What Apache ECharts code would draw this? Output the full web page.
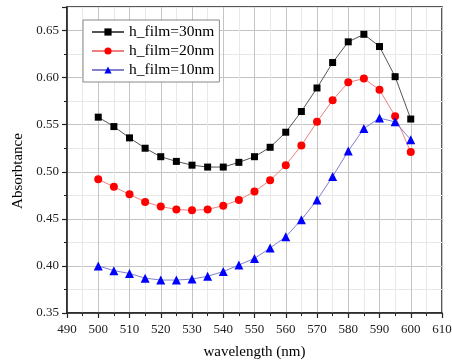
<!DOCTYPE html>
<html>
<head>
<meta charset="utf-8">
<script src="https://cdn.jsdelivr.net/npm/echarts@6/dist/echarts.min.js"></script>
<style>html,body{margin:0;padding:0;background:#fff}#c{width:452px;height:362px}</style>
</head>
<body>
<div id="c"></div>
<script>
const wavelength = [500,505,510,515,520,525,530,535,540,545,550,555,560,565,570,575,580,585,590,595,600];
const h30 = [0.558,0.548,0.536,0.525,0.516,0.511,0.507,0.505,0.505,0.510,0.516,0.526,0.542,0.564,0.589,0.616,0.638,0.646,0.633,0.601,0.556];
const h20 = [0.492,0.484,0.476,0.468,0.463,0.460,0.459,0.460,0.464,0.470,0.479,0.491,0.507,0.528,0.553,0.576,0.595,0.599,0.587,0.559,0.521];
const h10 = [0.400,0.395,0.392,0.387,0.385,0.385,0.386,0.389,0.394,0.401,0.408,0.419,0.431,0.449,0.470,0.495,0.522,0.546,0.557,0.553,0.534];
const seriesNames = ['h_film=30nm','h_film=20nm','h_film=10nm'];

const font = 'Liberation Serif, Times New Roman, serif';
const pairs = arr => wavelength.map((w, i) => [w, arr[i]]);

const chart = echarts.init(document.getElementById('c'));
chart.setOption({
  animation: false,
  backgroundColor: '#fff',
  grid: { left: 67, right: 10, top: 7, bottom: 49, outerBoundsMode: 'none', containLabel: false, show: true, borderColor: '#222', borderWidth: 1.5, backgroundColor: 'transparent' },
  legend: {
    orient: 'vertical', left: 83, top: 20,
    backgroundColor: '#fff', borderColor: '#888', borderWidth: 1,
    padding: [4, 5, 4, 8], itemGap: 3, itemWidth: 32, itemHeight: 9,
    textStyle: { fontFamily: font, fontSize: 15.5, color: '#000' },
    data: seriesNames
  },
  xAxis: {
    type: 'value', min: 490, max: 610, interval: 10,
    name: 'wavelength (nm)', nameLocation: 'middle', nameGap: 32,
    nameTextStyle: { fontFamily: font, fontSize: 15, color: '#000' },
    axisLine: { show: true, lineStyle: { color: '#222', width: 1.5 } },
    axisTick: { show: true, length: 5, lineStyle: { color: '#222', width: 1.2 } },
    minorTick: { show: true, splitNumber: 2, length: 3, lineStyle: { color: '#222', width: 1 } },
    axisLabel: { fontFamily: font, fontSize: 13, color: '#222', margin: 10 },
    splitLine: { show: true, lineStyle: { color: '#c4c4c4', width: 1 } },
    minorSplitLine: { show: true, lineStyle: { color: '#e8e8e8', width: 1 } }
  },
  yAxis: [{
    type: 'value', min: 0.35, max: 0.675, interval: 0.025,
    name: 'Absorbtance', nameLocation: 'middle', nameGap: 37,
    nameTextStyle: { fontFamily: font, fontSize: 15, color: '#000', padding: [0, 22, 0, 0] },
    axisLine: { show: true, lineStyle: { color: '#222', width: 1.5 } },
    axisTick: { show: true, length: 3, lineStyle: { color: '#222', width: 1 } },
    axisLabel: {
      fontFamily: font, fontSize: 13, color: '#222', margin: 8,
      formatter: v => {
        const k = Math.round(v / 0.05);
        return (Math.abs(k * 0.05 - v) < 1e-6 && v < 0.67) ? v.toFixed(2) : '';
      }
    },
    splitLine: { show: true, showMinLine: true, showMaxLine: true, lineStyle: { color: ['#c4c4c4', '#e8e8e8'], width: 1 } }
  }, {
    type: 'value', min: 0.35, max: 0.675, interval: 0.05, position: 'left',
    axisLine: { show: false },
    axisTick: { show: true, length: 5, lineStyle: { color: '#222', width: 1.2 } },
    axisLabel: { show: false },
    splitLine: { show: false }
  }],
  series: [
    {
      name: seriesNames[0], type: 'line', data: pairs(h30), yAxisIndex: 0,
      symbol: 'rect', symbolSize: 7,
      itemStyle: { color: '#000' }, lineStyle: { color: '#555', width: 1 }
    },
    {
      name: seriesNames[1], type: 'line', data: pairs(h20), yAxisIndex: 0,
      symbol: 'circle', symbolSize: 8,
      itemStyle: { color: '#ff0000' }, lineStyle: { color: '#ee8080', width: 1 }
    },
    {
      name: seriesNames[2], type: 'line', data: pairs(h10), yAxisIndex: 0,
      symbol: 'triangle', symbolSize: 9,
      itemStyle: { color: '#0000ff' }, lineStyle: { color: '#8080cc', width: 1 }
    }
  ]
});
</script>
</body>
</html>
